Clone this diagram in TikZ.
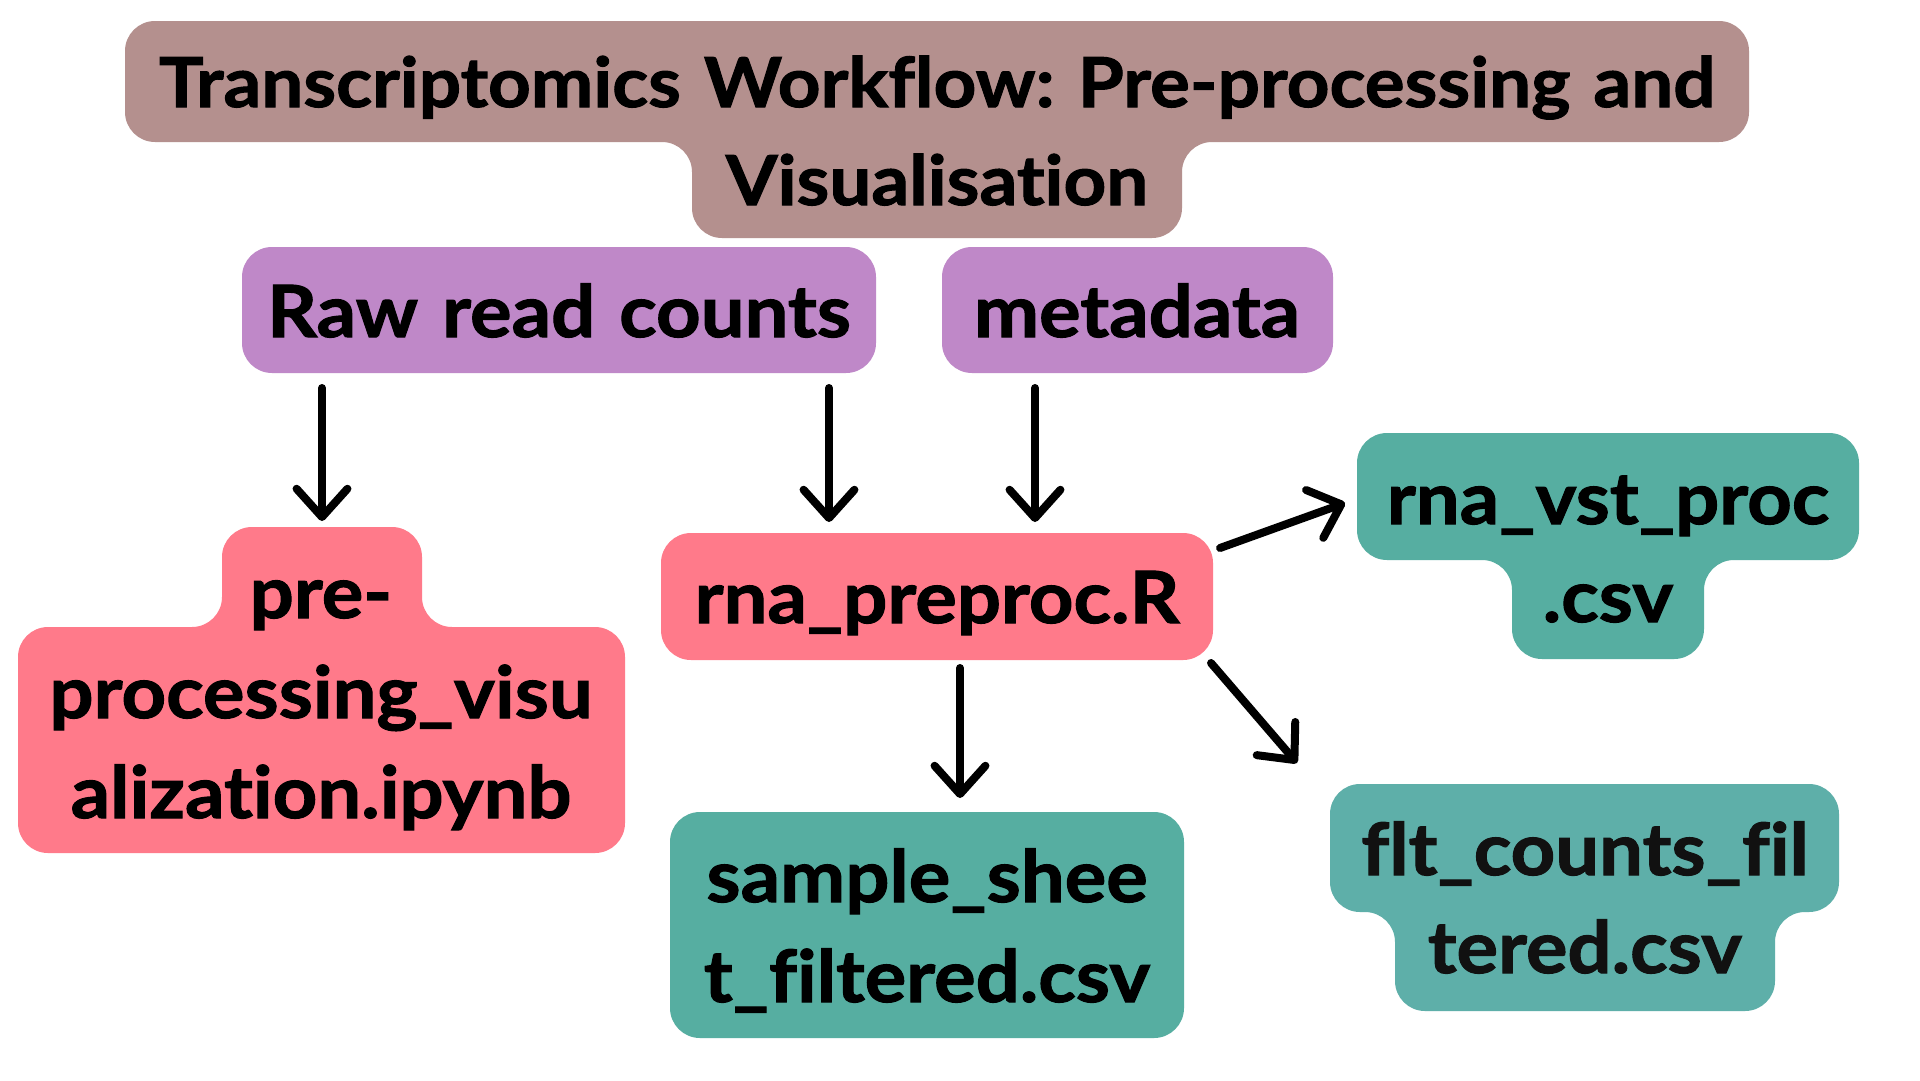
\documentclass[tikz,border=0pt]{standalone}
\usepackage{fontspec}
\setmainfont{Lato}[Ligatures=NoCommon, BoldFeatures={FakeStretch=1.08, FakeBold=1.5}]
\usetikzlibrary{arrows.meta}
\definecolor{titlec}{HTML}{B4908E}
\definecolor{purplec}{HTML}{BF88C8}
\definecolor{pinkc}{HTML}{FF7A8A}
\definecolor{tealc}{HTML}{56AEA1}
\definecolor{tealb}{HTML}{5EAFA9}
\definecolor{darkt}{HTML}{111111}
\frenchspacing
\begin{document}
\begin{tikzpicture}[x=1pt,y=-1pt,
  shapebox/.style={rounded corners=30pt},
  lbl/.style={inner sep=0pt, align=center, anchor=base, text width=700pt,
    font=\bfseries\fontsize{72}{100}\selectfont},
  arr/.style={line width=8pt, line cap=round, -{Straight Barb[angle=84:38pt,round]}}]
\fill[white] (0,0) rectangle (1920,1080);
\useasboundingbox (0,0) rectangle (1920,1080);
% boxes
\fill[titlec, shapebox] (125,21) -- (1749,21) -- (1749,142) -- (1182,142) -- (1182,238) -- (692,238) -- (692,142) -- (125,142) -- cycle;
\fill[purplec, shapebox] (242,247) rectangle (876,373);
\fill[purplec, shapebox] (942,247) rectangle (1333,373);
\fill[pinkc, shapebox] (222,527) -- (422,527) -- (422,627) -- (625,627) -- (625,853) -- (18,853) -- (18,627) -- (222,627) -- cycle;
\fill[pinkc, shapebox] (661,533) rectangle (1213,660);
\fill[tealc, shapebox] (1357,433) -- (1859,433) -- (1859,560) -- (1704,560) -- (1704,659) -- (1512,659) -- (1512,560) -- (1357,560) -- cycle;
\fill[tealb, shapebox] (1330,784) -- (1839,784) -- (1839,912) -- (1775,912) -- (1775,1011) -- (1395,1011) -- (1395,912) -- (1330,912) -- cycle;
\fill[tealc, shapebox] (670,812) rectangle (1184,1038);
% labels
\node[lbl, text width=1700pt, font=\bfseries\fontsize{69}{98}\selectfont] (title) at (937,107) {Transcriptomics Workflow: Pre-processing and\\Visualisation};
\node[lbl] (raw) at (559,337) {Raw read counts};
\node[lbl] (meta) at (1137,337) {metadata};
\node[lbl] (pre) at (321,618) {pre-\\processing\_visu\\alization.ipynb};
\node[lbl] (rna) at (937,623) {rna\_preproc.R};
\node[lbl, font=\bfseries\fontsize{72}{98}\selectfont] (vst) at (1608,524) {rna\_vst\_proc\\.csv};
\node[lbl, text=darkt, font=\bfseries\fontsize{72}{98}\selectfont] (flt) at (1585,875) {flt\_counts\_fil\\tered.csv};
\node[lbl] (sample) at (927,902) {sample\_shee\\t\_filtered.csv};
% connector ends
\coordinate (a1s) at (322,388); \coordinate (a1e) at (322,521);
\coordinate (a2s) at (829,388); \coordinate (a2e) at (829,522);
\coordinate (a3s) at (1035,388); \coordinate (a3e) at (1035,522);
\coordinate (a4s) at (1220,548); \coordinate (a4e) at (1345,503);
\coordinate (a5s) at (1211,663); \coordinate (a5e) at (1297,763);
\coordinate (a6s) at (960,668); \coordinate (a6e) at (960,798);
\draw[arr] (a1s) -- (a1e);
\draw[arr] (a2s) -- (a2e);
\draw[arr] (a3s) -- (a3e);
\draw[arr] (a4s) -- (a4e);
\draw[arr] (a5s) -- (a5e);
\draw[arr] (a6s) -- (a6e);
\end{tikzpicture}
\end{document}
